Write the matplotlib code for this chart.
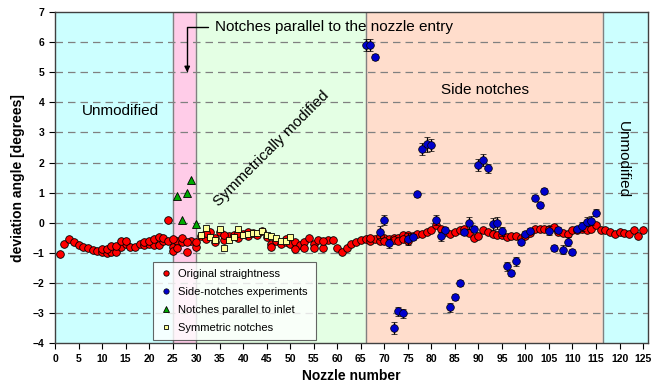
import matplotlib
matplotlib.use('Agg')
import matplotlib.pyplot as plt

plt.rcParams['font.family'] = ['Liberation Sans', 'DejaVu Sans']

# original straightness (one value per nozzle 1..125)
orig_x = list(range(1, 126))
orig_y = [-1.05, -0.71, -0.55, -0.63, -0.74, -0.80, -0.85, -0.91, -0.94, -0.96,
          -1.00, -0.96, -0.96, -0.82, -0.70, -0.82, -0.82, -0.71, -0.75, -0.72,
          -0.75, -0.75, -0.62, 0.10, -0.82, -0.60, -0.65, -0.97, -0.62, -0.80,
          -0.45, -0.55, -0.30, -0.50, -0.30, -0.58, -0.45, -0.40, -0.50, -0.39,
          -0.45, -0.35, -0.40, -0.28, -0.47, -0.72, -0.60, -0.72, -0.65, -0.70,
          -0.63, -0.75, -0.63, -0.50, -0.72, -0.58, -0.83, -0.58, -0.58, -0.85,
          -0.98, -0.83, -0.72, -0.63, -0.58, -0.55, -0.60, -0.55, -0.60, -0.52,
          -0.55, -0.50, -0.52, -0.42, -0.42, -0.45, -0.36, -0.38, -0.30, -0.25,
          -0.08, -0.20, -0.30, -0.37, -0.32, -0.25, -0.20, -0.35, -0.50, -0.45,
          -0.25, -0.30, -0.38, -0.40, -0.41, -0.47, -0.45, -0.43, -0.52, -0.45,
          -0.35, -0.22, -0.20, -0.22, -0.20, -0.13, -0.30, -0.35, -0.38, -0.25,
          -0.25, -0.20, -0.25, -0.22, -0.08, -0.25, -0.25, -0.30, -0.37, -0.30,
          -0.33, -0.36, -0.25, -0.45, -0.25]

# repeated straightness measurements
rep_x = [10, 11, 12, 13, 14, 15, 19, 20, 21, 22, 23, 24, 25, 25, 26, 27, 28, 30,
         32, 34, 36, 39, 41, 46, 49, 51, 53, 55, 57, 67, 69, 70, 72, 73, 74, 75]
rep_y = [-0.87, -0.87, -0.77, -0.77, -0.60, -0.60, -0.65, -0.62, -0.55, -0.49,
         -0.50, -0.60, -0.55, -0.95, -0.85, -0.50, -0.65, -0.65, -0.35, -0.65,
         -0.40, -0.35, -0.30, -0.82, -0.55, -0.88, -0.85, -0.85, -0.60, -0.50,
         -0.45, -0.62, -0.58, -0.62, -0.55, -0.62]

# side-notches experiments with error bars
side_x = list(range(66, 116))
side_y = [5.90, 5.90, 5.52, -0.30, 0.09, -0.69, -3.49, -2.94, -3.01, -0.55,
          -0.49, 0.95, 2.44, 2.61, 2.58, 0.09, -0.45, -0.25, -2.81, -2.48,
          -2.00, -0.30, 0.00, -0.22, 1.92, 2.10, 1.81, -0.05, 0.00, -0.28,
          -1.44, -1.66, -1.28, -0.63, -0.38, -0.27, 0.81, 0.59, 1.06, -0.27,
          -0.83, -0.25, -0.89, -0.63, -0.97, -0.22, -0.11, 0.03, 0.06, 0.33]
side_err = [0.20, 0.20, 0.10, 0.20, 0.15, 0.15, 0.20, 0.15, 0.15, 0.20,
            0.10, 0.08, 0.20, 0.25, 0.20, 0.15, 0.15, 0.10, 0.15, 0.10,
            0.10, 0.10, 0.20, 0.10, 0.20, 0.20, 0.15, 0.20, 0.20, 0.15,
            0.15, 0.10, 0.15, 0.10, 0.10, 0.10, 0.10, 0.10, 0.10, 0.15,
            0.10, 0.10, 0.15, 0.15, 0.10, 0.10, 0.15, 0.15, 0.15, 0.12]

# notches parallel to inlet
par_x = [26, 27, 28, 29, 30]
par_y = [0.89, 0.09, 1.00, 1.42, -0.04]

# symmetric notches
sym_x = list(range(31, 51))
sym_y = [-0.41, -0.17, -0.47, -0.58, -0.21, -0.85, -0.58, -0.47, -0.21, -0.41,
         -0.39, -0.35, -0.35, -0.28, -0.40, -0.43, -0.52, -0.61, -0.61, -0.47]

fig = plt.figure(figsize=(6.63, 3.89), dpi=100)
ax = fig.add_axes([0.083, 0.118, 0.894, 0.851])

# background regions
ax.axvspan(0, 25, color='#CCFFFF', zorder=0)
ax.axvspan(25, 30, color='#FFCCE8', zorder=0)
ax.axvspan(30, 66, color='#E4FFE4', zorder=0)
ax.axvspan(66, 116.5, color='#FFDDCC', zorder=0)
ax.axvspan(116.5, 126, color='#CCFFFF', zorder=0)
for b in [25, 30, 66, 116.5]:
    ax.axvline(b, color='#808080', lw=1, zorder=1)

for yv in range(-3, 7):
    ax.axhline(yv, color='#808080', lw=0.9, ls=(0, (6, 4)), zorder=1)

mk = dict(markeredgecolor='black', markeredgewidth=0.6, linestyle='none')
h_orig, = ax.plot(orig_x, orig_y, 'o', color='#FF0000', ms=5.5, zorder=3,
                  label='Original straightness', **mk)
ax.plot(rep_x, rep_y, 'o', color='#FF0000', ms=5.5, zorder=3, **mk)
h_side = ax.errorbar(side_x, side_y, yerr=side_err, fmt='o', color='#0000CC', ms=5.5,
                     ecolor='black', elinewidth=0.9, capsize=2.5, capthick=0.9,
                     markeredgecolor='black', markeredgewidth=0.5, zorder=4,
                     label='Side-notches experiments')
h_par, = ax.plot(par_x, par_y, '^', color='#00AA00', ms=5.5, zorder=5,
                 label='Notches parallel to inlet', **mk)
h_sym, = ax.plot(sym_x, sym_y, 's', color='#FFFF99', ms=5, zorder=3.5,
                 label='Symmetric notches', **mk)

ax.set_xlim(0, 126)
ax.set_ylim(-4, 7)
ax.set_xticks(range(0, 126, 5))
ax.set_yticks(range(-4, 8))
ax.tick_params(direction='out', length=4, width=0.8, labelsize=7.5)
for lab in ax.get_xticklabels() + ax.get_yticklabels():
    lab.set_fontweight('bold')
for sp in ax.spines.values():
    sp.set_color('#404040')
    sp.set_linewidth(1)

ax.set_xlabel('Nozzle number', fontsize=10, fontweight='bold', labelpad=4)
ax.set_ylabel('deviation angle [degrees]', fontsize=10, fontweight='bold', labelpad=6)

ax.text(14, 3.7, 'Unmodified', fontsize=11, ha='center', va='center')
ax.text(46, 2.45, 'Symmetrically modified', fontsize=11, ha='center', va='center',
        rotation=45)
ax.text(91.5, 4.41, 'Side notches', fontsize=11, ha='center', va='center')
ax.text(120.8, 2.1, 'Unmodified', fontsize=11, ha='center', va='center',
        rotation=270)
ax.annotate('Notches parallel to the nozzle entry', xy=(28.1, 5.0),
            xytext=(34, 6.5), fontsize=11, ha='left', va='center',
            arrowprops=dict(arrowstyle='-|>', color='black', lw=1,
                            connectionstyle='angle,angleA=180,angleB=90,rad=0',
                            shrinkA=3, shrinkB=0, mutation_scale=8))

leg = ax.legend([h_orig, h_side[0], h_par, h_sym],
                ['Original straightness', 'Side-notches experiments',
                 'Notches parallel to inlet', 'Symmetric notches'],
                loc='lower left', bbox_to_anchor=(0.165, 0.008), fontsize=8,
                frameon=True, fancybox=False, edgecolor='#404040',
                handlelength=1.0, handletextpad=0.6, labelspacing=0.7,
                borderpad=0.7, markerscale=0.7, borderaxespad=0)
leg.get_frame().set_linewidth(0.8)
leg.set_zorder(6)

fig.savefig('out.png', dpi=100)
